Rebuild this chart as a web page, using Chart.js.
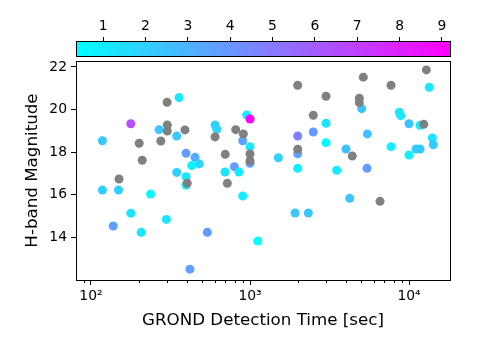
<!DOCTYPE html>
<html>
<head>
<meta charset="utf-8">
<script src="https://cdn.jsdelivr.net/npm/chart.js@4.4.1/dist/chart.umd.min.js"></script>
<style>
  html, body { margin: 0; padding: 0; background: #fff; }
</style>
</head>
<body>
<canvas id="grondChart" width="500" height="340"></canvas>
<script>
// detections with a colour value
const detTime = [118, 118, 138, 149, 178, 178, 207, 237, 268, 298, 358, 346, 346, 396, 451, 430, 480, 396, 396, 419,
                 539, 603, 618, 696, 797, 853, 900, 900, 953, 1000, 1000, 1000, 1118, 1507, 1995, 1995, 1995, 1919, 2326, 2500,
                 3006, 3006, 3510, 4017, 4236, 5040, 5466, 5443, 7703, 8690, 8867, 10000, 10000, 11070, 11730, 11730, 13420, 14010, 14210];
const detMag = [18.53, 16.21, 14.52, 16.21, 19.33, 15.12, 14.22, 16.02, 19.05, 14.83, 20.56, 18.75, 17.04, 17.94, 17.75, 17.36, 17.44, 16.84, 16.45, 12.49,
                14.22, 19.27, 19.07, 17.06, 17.31, 17.06, 18.53, 15.93, 19.74, 19.55, 18.25, 17.47, 13.81, 17.73, 18.75, 17.92, 17.23, 15.13, 15.13, 18.94,
                19.35, 18.44, 17.14, 18.14, 15.82, 20.04, 18.85, 17.23, 18.25, 19.87, 19.71, 19.33, 17.86, 18.14, 18.14, 19.26, 21.04, 18.66, 18.34];
const detColour = [2.3, 2.0, 3.7, 2.0, 6.5, 1.3, 1.2, 0.6, 2.3, 1.2, 1.2, 2.3, 2.0, 3.8, 3.2, 0.7, 1.8, 1.2, 0.8, 3.7,
                   3.8, 2.0, 1.8, 1.3, 3.8, 1.0, 3.6, 1.0, 1.0, 9.19, 1.2, 3.5, 0.36, 2.0, 4.6, 3.6, 1.0, 2.3, 2.3, 3.8,
                   1.3, 0.5, 1.0, 2.5, 2.3, 2.5, 2.5, 3.8, 1.0, 1.2, 1.2, 2.5, 1.0, 2.2, 2.2, 1.2, 1.3, 1.2, 2.2];

// detections without colour value (grey)
const greyTime = [150, 201, 210, 275, 301, 302, 302, 390, 403, 603, 699, 720, 813, 908, 1000, 1000,
                  1995, 1995, 2500, 3006, 4398, 4869, 4869, 5159, 6570, 7703, 12380, 12850];
const greyMag = [16.73, 18.41, 17.61, 18.52, 20.34, 19.27, 18.99, 19.04, 16.53, 18.71, 17.89, 16.53, 19.05, 18.85, 17.91, 17.59,
                 21.14, 18.13, 19.73, 20.62, 17.81, 20.53, 20.32, 21.52, 15.68, 21.14, 19.30, 21.86];

const xTicks = [100, 1000, 10000];
const yTicks = [14, 16, 18, 20, 22];
const cbTicks = [1, 2, 3, 4, 5, 6, 7, 8, 9];

const vmin = Math.min(...detColour);
const vmax = Math.max(...detColour);

// matplotlib "cool" colormap
function coolColour(v) {
    const t = (v - vmin) / (vmax - vmin);
    return `rgb(${Math.round(255 * t)}, ${Math.round(255 * (1 - t))}, 255)`;
}

const minorTicks = [];
[10, 100, 1000, 10000].forEach(dec => {
    for (let k = 2; k <= 9; k++) minorTicks.push(k * dec);
});

const sup = { 2: '\u00b2', 3: '\u00b3', 4: '\u2074' };
const tickFont = { family: 'DejaVu Sans', size: 13.9 };
const titleFont = { family: 'DejaVu Sans', size: 16.7 };

const extras = {
    id: 'extras',
    afterDraw(chart) {
        const { ctx, chartArea: a, scales } = chart;
        ctx.save();
        ctx.strokeStyle = '#000';
        ctx.lineWidth = 1;

        // minor log ticks
        ctx.beginPath();
        minorTicks.forEach(v => {
            if (v < scales.x.min || v > scales.x.max) return;
            const px = Math.round(scales.x.getPixelForValue(v)) + 0.5;
            ctx.moveTo(px, a.bottom);
            ctx.lineTo(px, a.bottom + 3);
        });
        ctx.stroke();

        // plot frame
        ctx.strokeRect(Math.round(a.left) + 0.5, Math.round(a.top) + 0.5,
                       Math.round(a.right - a.left), Math.round(a.bottom - a.top));

        // colour bar
        const barBottom = a.top - 5;
        const barTop = barBottom - 15;
        ctx.fillStyle = '#fff';
        ctx.fillRect(a.left - 2, barBottom, a.right - a.left + 4, a.top - barBottom);
        const g = ctx.createLinearGradient(a.left, 0, a.right, 0);
        g.addColorStop(0, coolColour(vmin));
        g.addColorStop(1, coolColour(vmax));
        ctx.fillStyle = g;
        ctx.fillRect(a.left, barTop, a.right - a.left, barBottom - barTop);
        ctx.strokeRect(Math.round(a.left) + 0.5, barTop + 0.5,
                       Math.round(a.right - a.left), barBottom - barTop);
        ctx.restore();
    }
};

new Chart(document.getElementById('grondChart'), {
    type: 'scatter',
    data: {
        datasets: [
            {
                label: 'no colour',
                data: greyTime.map((t, i) => ({ x: t, y: greyMag[i] })),
                backgroundColor: 'gray',
                pointRadius: 4.5,
                borderWidth: 0,
                order: 0
            },
            {
                label: 'colour',
                data: detTime.map((t, i) => ({ x: t, y: detMag[i] })),
                backgroundColor: detColour.map(coolColour),
                pointRadius: 4.5,
                borderWidth: 0,
                order: 1
            }
        ]
    },
    options: {
        responsive: false,
        animation: false,
        devicePixelRatio: 1,
        layout: { padding: { left: 0, right: 50, top: 0, bottom: 0 } },
        plugins: { legend: { display: false }, tooltip: { enabled: false } },
        scales: {
            x: {
                type: 'logarithmic',
                position: 'bottom',
                min: 80.5,
                max: 18100,
                afterBuildTicks: s => { s.ticks = xTicks.map(v => ({ value: v })); },
                afterFit: s => { s.height = 60; },
                ticks: {
                    callback: v => '10' + sup[Math.round(Math.log10(v))],
                    font: tickFont, color: '#000', padding: 3,
                    maxRotation: 0, autoSkip: false
                },
                grid: { drawOnChartArea: false, tickLength: 5, tickColor: '#000' },
                border: { display: false },
                title: {
                    display: true, text: 'GROND Detection Time [sec]',
                    font: titleFont, color: '#000', padding: { top: 0, bottom: 9 }
                }
            },
            y: {
                type: 'linear',
                min: 11.98,
                max: 22.28,
                afterBuildTicks: s => { s.ticks = yTicks.map(v => ({ value: v })); },
                afterFit: s => { s.width = 76; },
                ticks: { font: tickFont, color: '#000', padding: 4 },
                grid: { drawOnChartArea: false, tickLength: 5, tickColor: '#000' },
                border: { display: false },
                title: {
                    display: true, text: 'H-band Magnitude',
                    font: titleFont, color: '#000', padding: { top: 23, bottom: 0 }
                }
            },
            cb: {
                type: 'linear',
                axis: 'x',
                position: 'top',
                min: vmin,
                max: vmax,
                afterBuildTicks: s => { s.ticks = cbTicks.map(v => ({ value: v })); },
                afterFit: s => { s.height = 61; },
                ticks: { font: tickFont, color: '#000', padding: 2, maxRotation: 0, autoSkip: false },
                grid: { drawOnChartArea: false, tickLength: 24, tickColor: '#000' },
                border: { display: false }
            }
        }
    },
    plugins: [extras]
});
</script>
</body>
</html>
